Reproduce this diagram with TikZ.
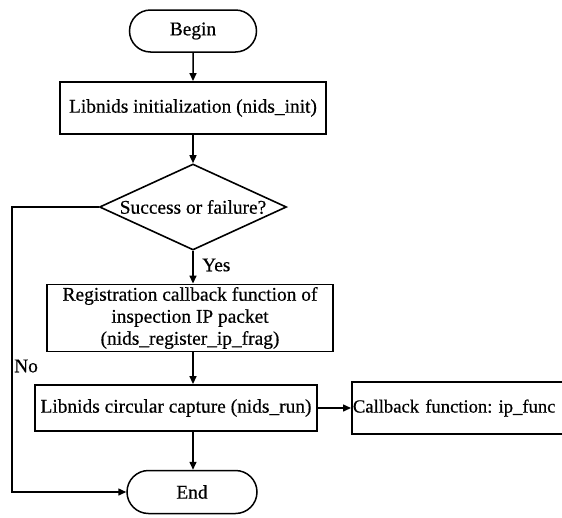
\documentclass[tikz,border=0pt]{standalone}
\usepackage{fontspec}
\setmainfont{Liberation Serif}[FakeBold=0.5]
\usetikzlibrary{arrows.meta,shapes.geometric,shapes.misc}
\begin{document}
\frenchspacing
\begin{tikzpicture}[x=1pt,y=-1pt,
  txt/.style={font=\fontsize{19.4}{22}\selectfont},
  box/.style={draw, line width=1.9pt, inner sep=0pt, align=center, txt},
  term/.style={draw, rounded rectangle, line width=1.5pt, inner sep=0pt, txt},
  dec/.style={draw, diamond, line width=1.6pt, inner sep=0pt},
  arr/.style={line width=1.5pt, -{Triangle[length=8pt,width=7pt]}},
  lbl/.style={inner sep=0pt, txt}
]
\useasboundingbox (0,0) rectangle (562,517);
\fill[white] (0,0) rectangle (562,517);
\begin{scope}
\clip (0,0) rectangle (562,517);
\node[term, minimum width=127, minimum height=42] (begin) at (193,31) {Begin};
\node[box, minimum width=266, minimum height=52] (init) at (193,108) {Libnids initialization (nids\_init)};
\node[dec, minimum width=187, minimum height=86, label={[txt]center:Success or failure?}] (cond) at (193,207) {};
\node[box, minimum width=286, minimum height=67] (reg) at (190,318) {Registration callback function of\\inspection IP packet\\(nids\_register\_ip\_frag)};
\node[box, minimum width=282, minimum height=46] (cap) at (176,408) {Libnids circular capture (nids\_run)};
\node[box, anchor=west, minimum height=52, text width=256, align=left, font=\fontsize{18.6}{22}\selectfont] (cb) at (351,408) {\hspace*{1pt}Callback function: ip\_func};
\node[term, minimum width=130, minimum height=43] (end) at (192,492) {End};
\coordinate (lft) at (12,207);
\node[lbl, anchor=west] (yes) at (202,265) {Yes};
\node[lbl, anchor=west] (no) at (14,366) {No};

\draw[arr] (begin) -- (init);
\draw[arr] (init) -- (cond);
\draw[arr] (cond.south) -- (cond.south |- reg.north);
\draw[arr] (cond.south |- reg.south) -- (cond.south |- cap.north);
\draw[arr] (cond.south |- cap.south) -- (cond.south |- end.north);
\draw[arr] (cap.east) -- (cb.west);
\draw[arr] (cond.west) -- (lft) |- (end.west);
\end{scope}
\end{tikzpicture}
\end{document}
